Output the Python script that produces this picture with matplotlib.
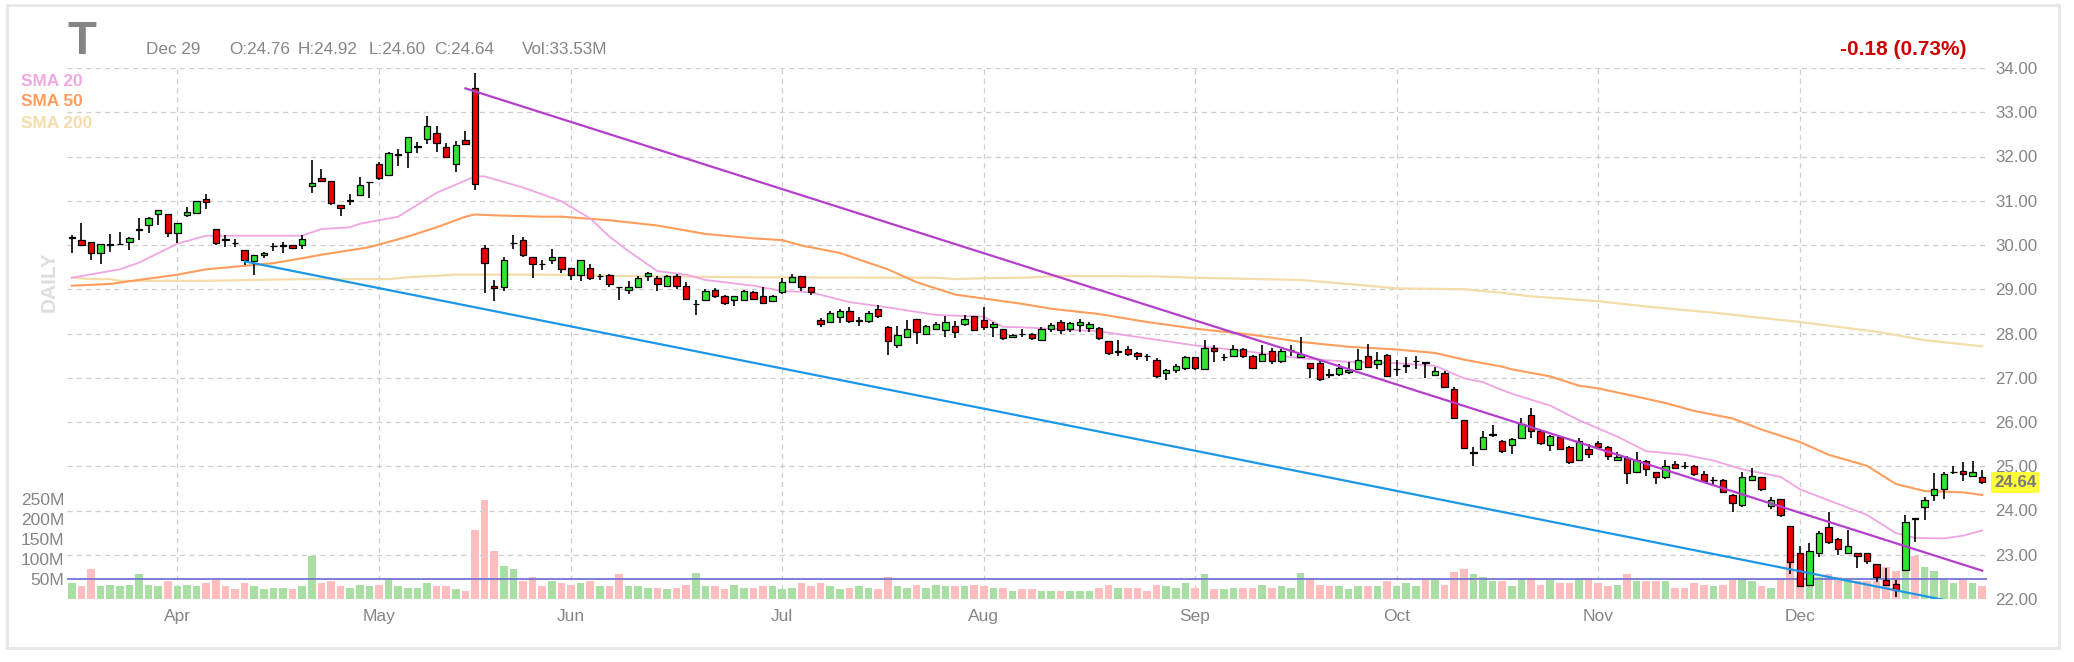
import matplotlib
matplotlib.use("Agg")
import matplotlib.pyplot as plt
from matplotlib.patches import Rectangle
import pandas as pd

plt.rcParams['font.family'] = ['Liberation Sans', 'DejaVu Sans']

ticker = "T"
cabecera = ["Dec 29", "O:24.76", "H:24.92", "L:24.60", "C:24.64", "Vol:33.53M"]
cambio = "-0.18 (0.73%)"
ultimo_precio = 24.64

feriados = ["2021-04-02", "2021-05-31", "2021-07-05", "2021-09-06", "2021-11-25", "2021-12-24"]

opens = [30.16, 30.11, 30.07, 29.81, 30.00, 30.03, 30.07, 30.33, 30.46, 30.69,
         30.69, 30.27, 30.67, 30.73, 31.05, 30.36, 30.13, 30.05, 29.89, 29.63,
         29.78, 29.97, 29.98, 30.01, 29.99, 31.33, 31.52, 31.44, 30.90, 31.00,
         31.14, 31.42, 31.84, 31.59, 32.04, 32.10, 32.22, 32.40, 32.53, 32.21,
         31.84, 32.38, 33.55, 29.93, 29.08, 29.04, 30.04, 30.11, 29.74, 29.58,
         29.67, 29.74, 29.49, 29.33, 29.49, 29.29, 29.33, 29.05, 28.99, 29.04,
         29.29, 29.26, 29.08, 29.30, 29.08, 28.66, 28.75, 28.98, 28.84, 28.75,
         28.75, 28.93, 28.84, 28.73, 28.93, 29.16, 29.30, 29.04, 28.30, 28.26,
         28.37, 28.51, 28.29, 28.28, 28.55, 28.15, 27.73, 27.91, 28.32, 27.99,
         28.11, 28.07, 28.18, 28.22, 28.40, 28.30, 28.14, 28.10, 27.91, 28.00,
         27.99, 27.85, 28.11, 28.26, 28.10, 28.19, 28.12, 28.12, 27.82, 27.59,
         27.64, 27.56, 27.50, 27.41, 27.10, 27.17, 27.23, 27.48, 27.19, 27.67,
         27.48, 27.50, 27.64, 27.50, 27.38, 27.60, 27.38, 27.62, 27.46, 27.33,
         27.33, 27.08, 27.08, 27.13, 27.19, 27.49, 27.31, 27.52, 27.19, 27.27,
         27.37, 27.35, 27.07, 27.11, 26.74, 26.04, 25.31, 25.40, 25.71, 25.57,
         25.48, 25.64, 26.16, 25.79, 25.48, 25.65, 25.44, 25.13, 25.40, 25.52,
         25.44, 25.13, 25.18, 24.87, 25.11, 24.86, 24.75, 25.04, 25.01, 25.00,
         24.82, 24.69, 24.68, 24.35, 24.12, 24.70, 24.75, 24.11, 24.27, 23.65,
         23.04, 22.32, 23.04, 23.63, 23.35, 23.04, 23.05, 23.04, 22.79, 22.44,
         22.34, 22.66, 23.82, 24.07, 24.35, 24.49, 24.87, 24.90, 24.78, 24.76]

highs = [30.22, 30.50, 30.07, 30.03, 30.25, 30.29, 30.19, 30.62, 30.64, 30.80,
         30.69, 30.50, 30.87, 31.00, 31.16, 30.36, 30.23, 30.13, 29.89, 29.78,
         29.84, 30.04, 30.07, 30.01, 30.22, 31.92, 31.71, 31.44, 30.90, 31.16,
         31.53, 31.43, 31.88, 32.10, 32.18, 32.45, 32.33, 32.91, 32.68, 32.31,
         32.35, 32.58, 33.88, 29.99, 29.21, 29.72, 30.23, 30.19, 29.74, 29.66,
         29.90, 29.74, 29.49, 29.67, 29.58, 29.35, 29.35, 29.05, 29.19, 29.29,
         29.39, 29.29, 29.33, 29.35, 29.16, 28.75, 29.00, 29.02, 28.88, 28.84,
         28.98, 28.96, 29.06, 28.88, 29.25, 29.35, 29.30, 29.04, 28.34, 28.51,
         28.56, 28.61, 28.38, 28.51, 28.65, 28.18, 28.18, 28.30, 28.32, 28.20,
         28.26, 28.40, 28.28, 28.42, 28.40, 28.59, 28.26, 28.10, 27.99, 28.10,
         28.01, 28.14, 28.24, 28.30, 28.26, 28.32, 28.26, 28.14, 27.82, 27.85,
         27.71, 27.58, 27.54, 27.44, 27.19, 27.31, 27.49, 27.48, 27.85, 27.73,
         27.54, 27.74, 27.68, 27.52, 27.73, 27.68, 27.64, 27.74, 27.93, 27.33,
         27.40, 27.19, 27.30, 27.36, 27.64, 27.77, 27.58, 27.54, 27.41, 27.46,
         27.49, 27.35, 27.25, 27.15, 26.78, 26.04, 25.44, 25.79, 25.93, 25.59,
         25.63, 26.10, 26.31, 25.82, 25.71, 25.67, 25.46, 25.63, 25.50, 25.57,
         25.46, 25.32, 25.24, 25.32, 25.13, 24.86, 25.13, 25.11, 25.10, 25.03,
         24.89, 24.76, 24.72, 24.37, 24.86, 24.96, 24.75, 24.31, 24.27, 23.65,
         23.20, 23.27, 23.53, 23.96, 23.37, 23.56, 23.05, 23.05, 22.79, 22.71,
         22.42, 23.90, 23.82, 24.31, 24.85, 24.86, 25.00, 25.09, 25.11, 24.92]

lows = [29.81, 29.99, 29.66, 29.58, 29.84, 30.01, 29.88, 30.11, 30.27, 30.46,
        30.19, 30.05, 30.63, 30.70, 30.82, 29.99, 29.95, 29.95, 29.55, 29.33,
        29.70, 29.86, 29.82, 29.90, 29.90, 31.18, 31.43, 30.91, 30.66, 30.91,
        31.10, 31.07, 31.48, 31.57, 31.78, 31.74, 32.07, 32.29, 32.10, 31.98,
        31.65, 32.26, 31.25, 28.92, 28.73, 28.96, 29.90, 29.74, 29.26, 29.44,
        29.58, 29.37, 29.21, 29.19, 29.22, 29.22, 29.04, 28.75, 28.89, 29.02,
        29.19, 28.96, 29.04, 29.00, 28.75, 28.42, 28.73, 28.81, 28.65, 28.63,
        28.73, 28.75, 28.67, 28.71, 28.89, 29.14, 28.96, 28.86, 28.14, 28.24,
        28.24, 28.24, 28.18, 28.24, 28.36, 27.52, 27.68, 27.89, 27.77, 27.96,
        28.07, 27.91, 27.89, 28.18, 28.05, 28.07, 27.93, 27.85, 27.89, 27.93,
        27.85, 27.82, 28.04, 27.99, 28.04, 28.04, 28.04, 27.85, 27.52, 27.50,
        27.50, 27.40, 27.37, 27.00, 26.94, 27.11, 27.17, 27.17, 27.17, 27.36,
        27.38, 27.46, 27.44, 27.19, 27.36, 27.30, 27.33, 27.50, 27.44, 26.99,
        26.92, 27.00, 27.04, 27.08, 27.17, 27.22, 27.19, 27.03, 27.03, 27.11,
        27.19, 27.00, 27.03, 26.76, 26.06, 25.38, 25.01, 25.38, 25.67, 25.30,
        25.27, 25.61, 25.64, 25.49, 25.34, 25.36, 25.05, 25.11, 25.18, 25.40,
        25.13, 25.11, 24.59, 24.85, 24.78, 24.59, 24.72, 24.93, 24.94, 24.77,
        24.64, 24.60, 24.39, 23.96, 24.09, 24.68, 24.44, 24.03, 23.86, 22.56,
        22.26, 22.30, 22.94, 23.24, 23.00, 23.02, 22.71, 22.79, 22.38, 22.30,
        22.05, 22.65, 23.29, 23.78, 24.21, 24.26, 24.83, 24.67, 24.75, 24.60]

closes = [30.17, 30.01, 29.81, 30.03, 30.02, 30.03, 30.15, 30.36, 30.62, 30.80,
          30.27, 30.50, 30.75, 31.00, 30.97, 30.05, 30.12, 30.04, 29.67, 29.78,
          29.82, 29.98, 29.99, 29.93, 30.13, 31.40, 31.44, 30.95, 30.83, 31.02,
          31.36, 31.43, 31.52, 32.07, 32.06, 32.45, 32.24, 32.68, 32.31, 32.00,
          32.25, 32.29, 31.38, 29.60, 29.02, 29.67, 30.05, 29.78, 29.56, 29.57,
          29.74, 29.45, 29.33, 29.67, 29.26, 29.29, 29.12, 29.04, 29.06, 29.25,
          29.37, 29.12, 29.30, 29.08, 28.79, 28.67, 28.97, 28.84, 28.69, 28.84,
          28.96, 28.78, 28.69, 28.84, 29.16, 29.27, 29.04, 28.94, 28.22, 28.47,
          28.51, 28.28, 28.30, 28.47, 28.40, 27.82, 27.97, 28.11, 28.04, 28.18,
          28.22, 28.26, 28.04, 28.33, 28.07, 28.15, 28.22, 27.89, 27.97, 27.99,
          27.89, 28.11, 28.19, 28.07, 28.24, 28.26, 28.22, 27.89, 27.56, 27.60,
          27.54, 27.50, 27.49, 27.03, 27.17, 27.27, 27.46, 27.21, 27.67, 27.60,
          27.48, 27.64, 27.50, 27.23, 27.54, 27.38, 27.60, 27.63, 27.54, 27.23,
          26.97, 27.07, 27.23, 27.17, 27.41, 27.25, 27.41, 27.05, 27.20, 27.28,
          27.38, 27.33, 27.15, 26.80, 26.08, 25.42, 25.32, 25.65, 25.72, 25.34,
          25.61, 25.96, 25.79, 25.53, 25.69, 25.40, 25.09, 25.56, 25.28, 25.44,
          25.24, 25.22, 24.85, 25.13, 24.93, 24.75, 25.00, 24.95, 25.00, 24.82,
          24.67, 24.70, 24.42, 24.17, 24.75, 24.78, 24.48, 24.23, 23.90, 22.83,
          22.30, 23.08, 23.49, 23.28, 23.12, 23.20, 22.97, 22.87, 22.50, 22.31,
          22.21, 23.73, 23.81, 24.23, 24.49, 24.83, 24.88, 24.83, 24.86, 24.64]

# volumen en millones
volumes = [41, 32, 75, 32, 36, 32, 36, 62, 36, 32, 46, 32, 36, 32, 41, 51, 32, 24, 41, 32,
           24, 27, 27, 24, 32, 108, 41, 46, 32, 27, 36, 32, 36, 51, 32, 27, 27, 41, 32, 32,
           24, 19, 172, 247, 121, 82, 75, 46, 55, 32, 46, 41, 36, 41, 46, 32, 32, 62, 32, 32,
           27, 27, 24, 27, 36, 65, 32, 32, 24, 36, 27, 27, 32, 32, 24, 27, 41, 32, 41, 32,
           24, 27, 32, 27, 24, 55, 32, 27, 36, 27, 36, 32, 32, 32, 36, 32, 27, 27, 19, 24,
           24, 19, 19, 19, 19, 19, 19, 27, 36, 27, 27, 27, 19, 36, 32, 27, 41, 27, 62, 24,
           24, 27, 27, 27, 36, 27, 32, 27, 65, 49, 36, 32, 32, 24, 32, 32, 32, 46, 32, 41,
           32, 51, 51, 36, 67, 75, 62, 55, 46, 46, 32, 49, 53, 36, 49, 41, 41, 53, 53, 41,
           32, 36, 62, 46, 46, 46, 46, 27, 27, 41, 36, 32, 36, 49, 53, 46, 32, 27, 53, 98,
           55, 70, 55, 62, 55, 46, 46, 46, 46, 79, 70, 79, 108, 79, 70, 49, 41, 49, 41, 33.5]
vol_promedio = 50

# medias moviles (indice de sesion, valor)
sma20_idx = [0, 5, 7, 11, 14, 19, 24, 26, 29, 30, 34, 38, 42, 43, 47, 51, 54, 56, 58, 61,
             64, 66, 71, 74, 77, 81, 85, 90, 95, 97, 99, 107, 117, 123, 128, 133, 138, 142, 145, 147,
             149, 150, 154, 157, 161, 164, 168, 171, 174, 178, 180, 183, 187, 190, 192, 195, 197, 199]
sma20_val = [29.26, 29.45, 29.60, 30.03, 30.21, 30.21, 30.21, 30.36, 30.40, 30.48, 30.64, 31.18, 31.55, 31.55, 31.30, 30.99, 30.60, 30.19, 29.86, 29.41,
             29.33, 29.21, 29.08, 28.96, 28.93, 28.71, 28.59, 28.42, 28.38, 28.15, 28.14, 28.05, 27.73, 27.58, 27.44, 27.36, 27.33, 27.27, 26.99, 26.90,
             26.72, 26.64, 26.37, 26.04, 25.67, 25.34, 25.26, 25.13, 24.93, 24.76, 24.48, 24.23, 23.90, 23.49, 23.38, 23.37, 23.43, 23.55]

sma50_idx = [0, 4, 6, 11, 14, 18, 21, 24, 26, 31, 35, 38, 41, 42, 44, 49, 51, 56, 61, 66,
             71, 74, 76, 80, 85, 88, 92, 95, 99, 102, 107, 112, 117, 123, 128, 133, 138, 142, 145, 147,
             149, 150, 154, 157, 159, 162, 166, 169, 173, 176, 180, 183, 187, 190, 193, 197, 199]
sma50_val = [29.08, 29.12, 29.18, 29.33, 29.45, 29.53, 29.59, 29.70, 29.78, 29.95, 30.19, 30.40, 30.64, 30.69, 30.67, 30.64, 30.64, 30.56, 30.44, 30.25,
             30.15, 30.11, 29.99, 29.82, 29.45, 29.16, 28.88, 28.79, 28.67, 28.56, 28.44, 28.26, 28.11, 27.97, 27.81, 27.70, 27.64, 27.56, 27.41, 27.33,
             27.25, 27.19, 27.03, 26.82, 26.76, 26.62, 26.43, 26.25, 26.08, 25.83, 25.55, 25.26, 25.01, 24.60, 24.44, 24.41, 24.35]

sma200_idx = [0, 2, 4, 5, 14, 24, 33, 35, 40, 49, 57, 71, 90, 92, 95, 99, 103, 113, 117, 128,
              135, 138, 145, 149, 152, 159, 164, 171, 180, 188, 193, 199]
sma200_val = [29.26, 29.23, 29.23, 29.19, 29.19, 29.23, 29.23, 29.27, 29.33, 29.33, 29.30, 29.27, 29.26, 29.23, 29.25, 29.26, 29.30, 29.29, 29.26, 29.21,
              29.08, 29.02, 29.00, 28.92, 28.84, 28.73, 28.61, 28.47, 28.26, 28.04, 27.85, 27.71]

# lineas de tendencia (canal bajista)
canal_sup_x = [41, 199]
canal_sup_y = [33.54, 22.64]
canal_inf_x = [18, 195]
canal_inf_y = [29.63, 21.98]

precios_grid = list(range(22, 35))
vol_ticks = [50, 100, 150, 200, 250]

# sesiones
fechas = pd.bdate_range("2021-03-17", "2021-12-29")
fechas = fechas[~fechas.isin(pd.to_datetime(feriados))]
x = list(range(len(fechas)))
pos_meses = [i for i in range(1, len(fechas)) if fechas[i].month != fechas[i - 1].month]
etq_meses = [fechas[i].strftime("%b") for i in pos_meses]

W, H = 2074, 662
GRIS = "#858585"
GRID = "#cdcdcd"


def fx(px):
    return px / W


def fy(py):
    return 1 - py / H


fig = plt.figure(figsize=(W / 100, H / 100), dpi=100)
ax_vol = fig.add_axes([fx(67), fy(599), fx(1987) - fx(67), fy(68) - fy(599)])
ax = ax_vol.twinx()

# volumen
sube = [c >= o for o, c in zip(opens, closes)]
colores_vol = ["#a9dfa3" if s else "#ffbdbd" for s in sube]
ax_vol.bar(x, volumes, width=0.8, color=colores_vol, zorder=2)
ax_vol.axhline(vol_promedio, color="#7474d6", lw=1.3, zorder=3)
ax_vol.set_ylim(0, 1330)
for p in pos_meses:
    ax_vol.axvline(p, color=GRID, lw=0.9, ls=(0, (4, 3.5)), zorder=1)

# grilla de precios
for v in precios_grid[1:]:
    ax.axhline(v, color=GRID, lw=0.9, ls=(0, (4, 3.5)), zorder=1)

# medias
ax.plot(sma200_idx, sma200_val, color="#f4dcab", lw=1.6, zorder=2)
ax.plot(sma50_idx, sma50_val, color="#ff9d5c", lw=1.5, zorder=2)
ax.plot(sma20_idx, sma20_val, color="#efa5e3", lw=1.3, zorder=2)

# velas
cuerpo_base = [min(o, c) for o, c in zip(opens, closes)]
cuerpo_alto = [abs(c - o) for o, c in zip(opens, closes)]
colores = ["#2ee62e" if s else "#ee0000" for s in sube]
ax.vlines(x, lows, highs, color="black", lw=1.2, zorder=3)
ax.bar(x, cuerpo_alto, bottom=cuerpo_base, width=0.66, color=colores,
       edgecolor="black", linewidth=0.9, zorder=4)

# canal
ax.plot(canal_sup_x, canal_sup_y, color="#b53fcc", lw=1.6, zorder=5)
ax.plot(canal_inf_x, canal_inf_y, color="#1e96e6", lw=1.6, zorder=5)

ax.set_xlim(-0.5, len(x) - 0.5)
ax.set_ylim(22, 34)
for a in (ax, ax_vol):
    for s in a.spines.values():
        s.set_visible(False)

ax.set_yticks(precios_grid)
ax.set_yticklabels([f"{v:.2f}" for v in precios_grid])
ax.tick_params(axis="y", length=0, pad=6, labelsize=12.2, labelcolor=GRIS)

ax_vol.set_yticks(vol_ticks)
ax_vol.set_yticklabels([f"{v}M" for v in vol_ticks])
ax_vol.tick_params(axis="y", length=0, pad=2, labelsize=12.5, labelcolor=GRIS)
ax_vol.set_xticks(pos_meses)
ax_vol.set_xticklabels(etq_meses)
ax_vol.tick_params(axis="x", length=0, pad=7, labelsize=12.5, labelcolor=GRIS)

ax.annotate(f"{ultimo_precio:.2f}", xy=(1, ultimo_precio), xycoords=("axes fraction", "data"),
            xytext=(5, 0), textcoords="offset points", ha="left", va="center",
            fontsize=12.2, fontweight="bold", color="#7a7a7a", annotation_clip=False,
            bbox=dict(boxstyle="square,pad=0.18", fc="#ffff3a", ec="none"), zorder=10)

# textos de cabecera
fig.text(fx(68), fy(54), ticker, fontsize=34, fontweight="bold", color=GRIS, va="baseline")
pos_cab = [146, 229, 298, 369, 434, 522]
for px, txt in zip(pos_cab, cabecera):
    fig.text(fx(px), fy(54), txt, fontsize=12.3, color=GRIS, va="baseline")
fig.text(fx(1967), fy(55), cambio, fontsize=15, fontweight="bold", color="#cc0000",
         ha="right", va="baseline")

leyenda = [("SMA 20", "#f0a8e2", 81), ("SMA 50", "#ff9d5c", 102), ("SMA 200", "#f4dcab", 123)]
for txt, col, py in leyenda:
    fig.text(fx(21), fy(py), txt, fontsize=12.4, fontweight="bold", color=col, va="center")

fig.text(fx(49), fy(282), "DAILY", rotation=90, fontsize=15, fontweight="bold",
         color="#dedede", ha="center", va="center")

fig.patches.append(Rectangle((fx(7), fy(648)), fx(2059) - fx(7), fy(5) - fy(648),
                             transform=fig.transFigure, fill=False, ec="#e8e8e8", lw=2.2))

fig.savefig("out.png", dpi=100)
